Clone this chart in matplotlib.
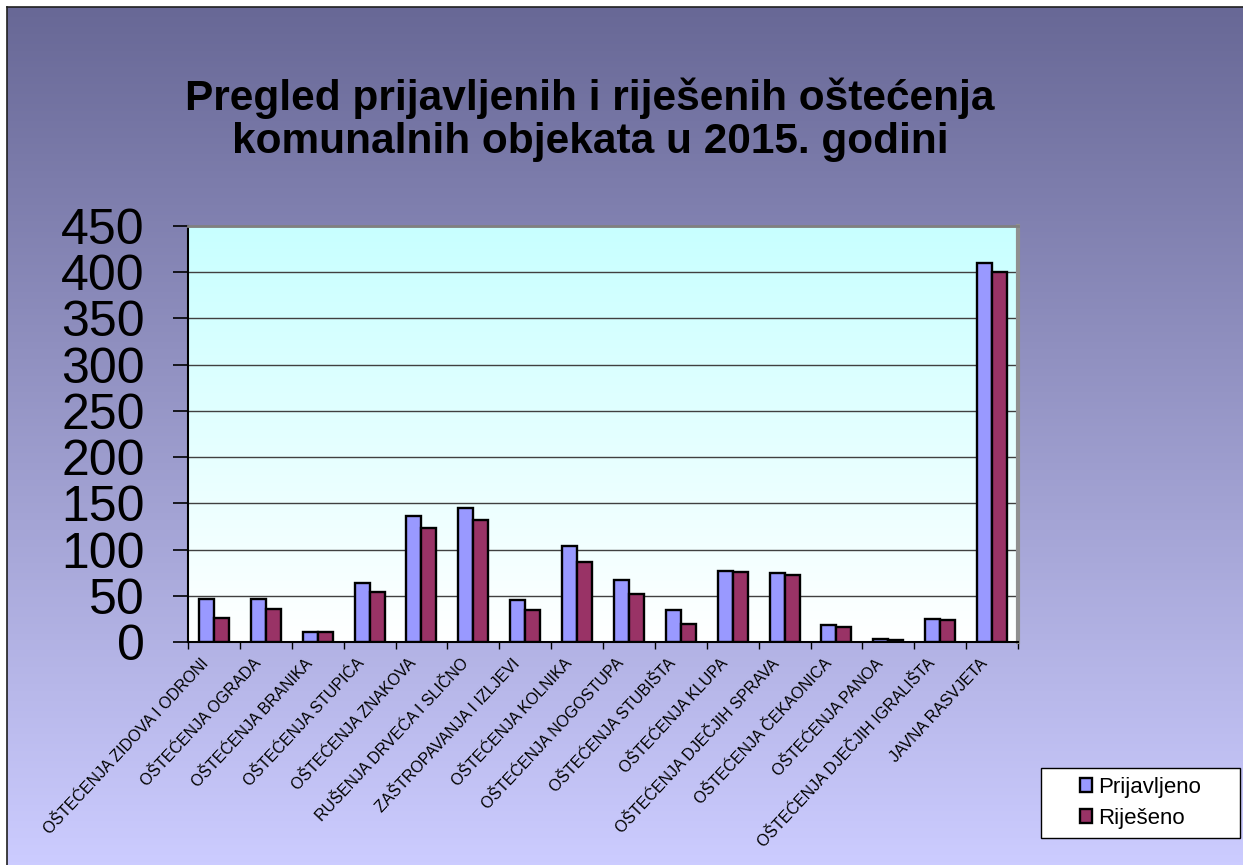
import numpy as np
import matplotlib.pyplot as plt
import matplotlib.transforms as mtransforms
from matplotlib.colors import LinearSegmentedColormap
from matplotlib.patches import Rectangle

plt.rcParams['font.family'] = ['Liberation Sans', 'DejaVu Sans']

categories = [
    'OŠTEĆENJA ZIDOVA I ODRONI', 'OŠTEĆENJA OGRADA', 'OŠTEĆENJA BRANIKA',
    'OŠTEĆENJA STUPIĆA', 'OŠTEĆENJA ZNAKOVA', 'RUŠENJA DRVEĆA I SLIČNO',
    'ZAŠTROPAVANJA I IZLJEVI', 'OŠTEĆENJA KOLNIKA', 'OŠTEĆENJA NOGOSTUPA',
    'OŠTEĆENJA STUBIŠTA', 'OŠTEĆENJA KLUPA', 'OŠTEĆENJA DJEČJIH SPRAVA',
    'OŠTEĆENJA ČEKAONICA', 'OŠTEĆENJA PANOA', 'OŠTEĆENJA DJEČJIH IGRALIŠTA',
    'JAVNA RASVJETA',
]
prijavljeno = [46, 47, 11, 64, 136, 145, 45, 104, 67, 35, 77, 75, 18, 3, 25, 410]
rijeseno = [26, 36, 11, 54, 123, 132, 35, 86, 52, 19, 76, 72, 16, 2, 24, 400]
y_ticks = [0, 50, 100, 150, 200, 250, 300, 350, 400, 450]

W, H = 1243, 865
fig = plt.figure(figsize=(W / 100, H / 100), dpi=100)
fig.patch.set_facecolor('white')

# chart area background gradient with a thin border
bg = fig.add_axes([7 / W, 0, 1 - 7 / W, 1 - 7 / H], zorder=0)
bg_cmap = LinearSegmentedColormap.from_list('bg', ['#686896', '#ccccff'])
bg.imshow(np.linspace(0, 1, 256).reshape(-1, 1), aspect='auto', cmap=bg_cmap,
          extent=[0, 1, 0, 1], origin='upper')
bg.set_xlim(0, 1)
bg.set_ylim(0, 1)
bg.set_xticks([])
bg.set_yticks([])
for side in ['right', 'bottom']:
    bg.spines[side].set_visible(False)
for side in ['left', 'top']:
    bg.spines[side].set_linewidth(1.2)
    bg.spines[side].set_color('#202020')

left, right, top, bottom = 188, 1018, 226, 642
ax = fig.add_axes([left / W, 1 - bottom / H, (right - left) / W, (bottom - top) / H], zorder=1)

n = len(categories)
x = np.arange(n)
ax.set_xlim(-0.5, n - 0.5)
ax.set_ylim(0, 450)

pa_cmap = LinearSegmentedColormap.from_list('pa', ['#c8ffff', '#ffffff'])
ax.imshow(np.linspace(0, 1, 256).reshape(-1, 1), aspect='auto', cmap=pa_cmap,
          extent=[-0.5, n - 0.5, 0, 450], origin='upper', zorder=0)

bw = 0.29
ax.bar(x - bw / 2, prijavljeno, bw, color='#9999ff', edgecolor='black',
       linewidth=1.7, label='Prijavljeno', zorder=3)
ax.bar(x + bw / 2, rijeseno, bw, color='#993366', edgecolor='black',
       linewidth=1.7, label='Riješeno', zorder=3)

ax.set_yticks(y_ticks)
ax.set_yticklabels([str(v) for v in y_ticks], fontsize=36)
ax.yaxis.grid(True, color='#404040', linewidth=1.0, zorder=1)
ax.tick_params(axis='y', length=11, width=1.2, direction='out', pad=20)

ax.set_xticks(np.arange(n + 1) - 0.5, minor=True)
ax.tick_params(axis='x', which='minor', length=5, width=1.0, direction='out')
ax.set_xticks(x)
ax.tick_params(axis='x', which='major', length=0, pad=10)
ax.set_xticklabels(categories, rotation=47, ha='right', rotation_mode='anchor', fontsize=11.5)
shift = mtransforms.ScaledTranslation(-13 / 100, 0, fig.dpi_scale_trans)
for lbl in ax.get_xticklabels():
    lbl.set_transform(lbl.get_transform() + shift)

ax.spines['left'].set_linewidth(1.5)
ax.spines['bottom'].set_linewidth(1.5)
ax.spines['top'].set_color('#808080')
ax.spines['top'].set_linewidth(2)
ax.spines['right'].set_color('#909090')
ax.spines['right'].set_linewidth(3)

fig.text(590 / W, 1 - 120 / H,
         'Pregled prijavljenih i riješenih oštećenja\nkomunalnih objekata u 2015. godini',
         ha='center', va='center', fontsize=30.5, fontweight='bold', linespacing=1.1)

# legend box
lx0, ly0, lx1, ly1 = 1041, 768, 1240, 838
fig.patches.append(Rectangle((lx0 / W, 1 - ly1 / H), (lx1 - lx0) / W, (ly1 - ly0) / H,
                             transform=fig.transFigure, facecolor='white',
                             edgecolor='black', linewidth=1.0, zorder=2))
leg = fig.legend(loc='center', bbox_to_anchor=((lx0 + lx1) / 2 / W, 1 - (ly0 + ly1) / 2 / H),
                 fontsize=16, frameon=False, handlelength=0.55, handleheight=0.55,
                 handletextpad=0.25, labelspacing=0.45, borderpad=0)
leg.set_zorder(3)

fig.savefig('out.png', dpi=100)
